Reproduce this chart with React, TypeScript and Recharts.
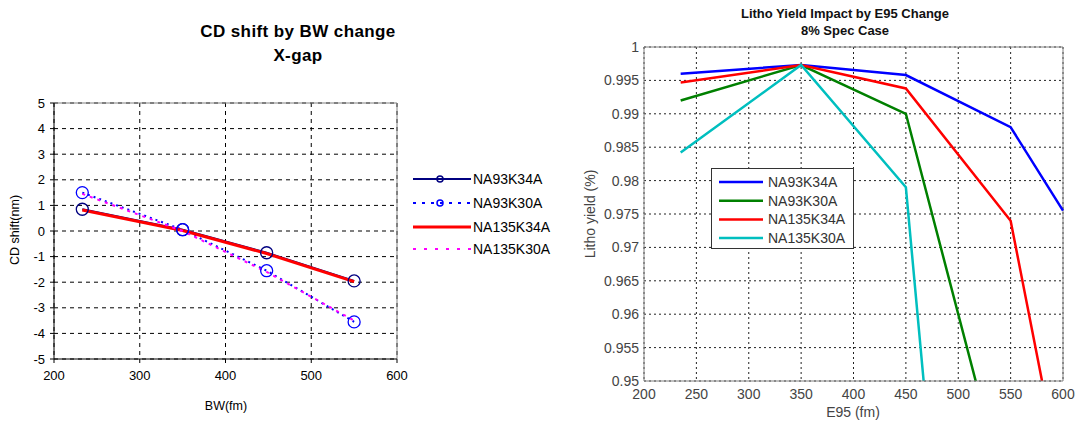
import React from 'react';
import {
  LineChart,
  Line,
  XAxis,
  YAxis,
  CartesianGrid,
  ReferenceLine,
} from 'recharts';

// ---- left chart: CD shift by BW change ----
const BW = [233, 350, 448, 550];
const CD_NAMES = ['NA93K34A', 'NA93K30A', 'NA135K34A', 'NA135K30A'];
const CD_NA93K34A = [0.85, 0.05, -0.85, -1.95];
const CD_NA93K30A = [1.5, 0.05, -1.55, -3.55];
const CD_NA135K34A = [0.82, 0.02, -0.88, -1.98];
const CD_NA135K30A = [1.45, 0.0, -1.6, -3.5];
const CD_X_TICKS = [200, 300, 400, 500, 600];
const CD_Y_TICKS = [-5, -4, -3, -2, -1, 0, 1, 2, 3, 4, 5];

// ---- right chart: Litho yield by E95 change ----
const E95 = [235, 350, 450, 550, 600];
const LY_NAMES = ['NA93K34A', 'NA93K30A', 'NA135K34A', 'NA135K30A'];
const LY_NA93K34A = [0.996, 0.9973, 0.9958, 0.988, 0.9755];
const LY_NA93K30A = [0.992, 0.9973, 0.99, 0.93, null];
const LY_NA135K34A = [0.9947, 0.9973, 0.9938, 0.974, 0.934];
const LY_NA135K30A = [0.9842, 0.9973, 0.979, 0.808, null];
const LY_X_TICKS = [200, 250, 300, 350, 400, 450, 500, 550, 600];
const LY_Y_TICKS = [0.95, 0.955, 0.96, 0.965, 0.97, 0.975, 0.98, 0.985, 0.99, 0.995, 1];

const cdData = BW.map((x, i) => ({
  x,
  s0: CD_NA93K34A[i],
  s1: CD_NA93K30A[i],
  s2: CD_NA135K34A[i],
  s3: CD_NA135K30A[i],
}));

const lyData = E95.map((x, i) => ({
  x,
  s0: LY_NA93K34A[i],
  s1: LY_NA93K30A[i],
  s2: LY_NA135K34A[i],
  s3: LY_NA135K30A[i],
}));

const FONT = 'Arial, "Liberation Sans", sans-serif';

const CD_STYLES = [
  { color: '#000080', width: 2, dash: undefined, dot: true, legendDash: undefined },
  { color: '#0000ff', width: 2, dash: '2 4', dot: true, legendDash: '3 6' },
  { color: '#ff0000', width: 3, dash: undefined, dot: false, legendDash: undefined },
  { color: '#ff00ff', width: 2, dash: '3 5', dot: false, legendDash: '3 8' },
];
const LY_COLORS = ['#0000ff', '#008000', '#ff0000', '#00bfbf'];

const ring = (color: string) => (props: any) => {
  const { cx, cy, index } = props;
  if (cx == null || cy == null) return <g key={index} />;
  return <circle key={index} cx={cx} cy={cy} r={6} fill="none" stroke={color} strokeWidth={1.3} />;
};

const CdLegend = () => (
  <svg width={160} height={100} style={{ position: 'absolute', left: 410, top: 166 }}>
    {CD_NAMES.map((n, i) => {
      const s = CD_STYLES[i];
      const y = 13 + [0, 24, 48, 70][i];
      return (
        <g key={n}>
          <line x1={3} x2={61} y1={y} y2={y} stroke={s.color} strokeWidth={s.width} strokeDasharray={s.legendDash} />
          {s.dot && <circle cx={30} cy={y} r={3} fill="none" stroke={s.color} strokeWidth={1.5} />}
          <text x={63} y={y + 5} fontSize={14} fontFamily={FONT} fill="#000">{n}</text>
        </g>
      );
    })}
  </svg>
);

const LyLegend = () => (
  <div
    style={{
      position: 'absolute',
      left: 711,
      top: 168,
      width: 141,
      height: 79,
      border: '1px solid #333',
      background: '#fff',
    }}
  >
    <svg width={141} height={79}>
      {LY_NAMES.map((n, i) => {
        const y = 13 + i * 18.7;
        return (
          <g key={n}>
            <line x1={7} x2={51} y1={y} y2={y} stroke={LY_COLORS[i]} strokeWidth={2.5} />
            <text x={56} y={y + 5} fontSize={14} fontFamily={FONT} fill="#333">{n}</text>
          </g>
        );
      })}
    </svg>
  </div>
);

const abs = (left: number, top: number, extra: React.CSSProperties = {}): React.CSSProperties => ({
  position: 'absolute',
  left,
  top,
  whiteSpace: 'nowrap',
  ...extra,
});

export default function App() {
  return (
    <div
      style={{
        position: 'absolute',
        left: 0,
        top: 0,
        width: 1078,
        height: 424,
        background: '#fff',
        fontFamily: FONT,
        overflow: 'hidden',
      }}
    >
      {/* left chart */}
      <div style={abs(298, 20, { transform: 'translateX(-50%)', fontWeight: 'bold', fontSize: 17, letterSpacing: 0.4, textAlign: 'center', lineHeight: '24px' })}>
        CD shift by BW change
        <br />
        X-gap
      </div>
      <div style={abs(226, 399, { transform: 'translateX(-50%)', fontSize: 12.5 })}>BW(fm)</div>
      <div style={abs(15, 230, { transform: 'translate(-50%, -50%) rotate(-90deg)', fontSize: 12.5 })}>CD shift(nm)</div>

      <div style={abs(0, 0)}>
        <LineChart width={412} height={424} data={cdData} margin={{ top: 103, right: 15, bottom: 35, left: 22 }}>
          <CartesianGrid stroke="#000" strokeDasharray="4 4" strokeWidth={1} />
          <XAxis
            dataKey="x"
            type="number"
            domain={[200, 600]}
            ticks={CD_X_TICKS}
            height={30}
            tickSize={4}
            tickMargin={8}
            stroke="#000"
            tick={{ fontSize: 13, fill: '#000', fontFamily: FONT }}
          />
          <YAxis
            type="number"
            domain={[-5, 5]}
            ticks={CD_Y_TICKS}
            width={32}
            tickSize={4}
            tickMargin={5}
            stroke="#000"
            tick={{ fontSize: 13, fill: '#000', fontFamily: FONT }}
          />
          <ReferenceLine y={5} stroke="#808080" strokeWidth={1} />
          <ReferenceLine x={600} stroke="#808080" strokeWidth={1} />
          {CD_STYLES.map((s, i) => (
            <Line
              key={i}
              dataKey={`s${i}`}
              type="linear"
              stroke={s.color}
              strokeWidth={s.width}
              strokeDasharray={s.dash}
              dot={s.dot ? ring(s.color) : false}
              activeDot={false}
              isAnimationActive={false}
            />
          ))}
        </LineChart>
      </div>
      <CdLegend />

      {/* right chart */}
      <div style={abs(845, 5, { transform: 'translateX(-50%)', fontWeight: 'bold', fontSize: 13, textAlign: 'center', lineHeight: '17px', color: '#111' })}>
        Litho Yield Impact by E95 Change
        <br />
        8% Spec Case
      </div>
      <div style={abs(853, 404, { transform: 'translateX(-50%)', fontSize: 14, color: '#444' })}>E95 (fm)</div>
      <div style={abs(590, 214, { transform: 'translate(-50%, -50%) rotate(-90deg)', fontSize: 14, color: '#444' })}>Litho yield (%)</div>

      <div style={abs(540, 0)}>
        <LineChart width={538} height={424} data={lyData} margin={{ top: 47, right: 15, bottom: 18, left: 46 }}>
          <CartesianGrid stroke="#222" strokeDasharray="2 3" strokeWidth={1} />
          <XAxis
            dataKey="x"
            type="number"
            domain={[200, 600]}
            ticks={LY_X_TICKS}
            height={25}
            tickSize={0}
            tickMargin={8}
            stroke="#808080"
            tick={{ fontSize: 14, fill: '#444', fontFamily: FONT }}
          />
          <YAxis
            type="number"
            domain={[0.95, 1]}
            ticks={LY_Y_TICKS}
            allowDataOverflow
            width={58}
            tickSize={0}
            tickMargin={5}
            stroke="#808080"
            tick={{ fontSize: 14, fill: '#444', fontFamily: FONT }}
          />
          <ReferenceLine y={1} stroke="#808080" strokeWidth={1} />
          <ReferenceLine x={600} stroke="#808080" strokeWidth={1} />
          {LY_COLORS.map((c, i) => (
            <Line
              key={i}
              dataKey={`s${i}`}
              type="linear"
              stroke={c}
              strokeWidth={2.5}
              dot={false}
              activeDot={false}
              isAnimationActive={false}
            />
          ))}
        </LineChart>
      </div>
      <LyLegend />
    </div>
  );
}
